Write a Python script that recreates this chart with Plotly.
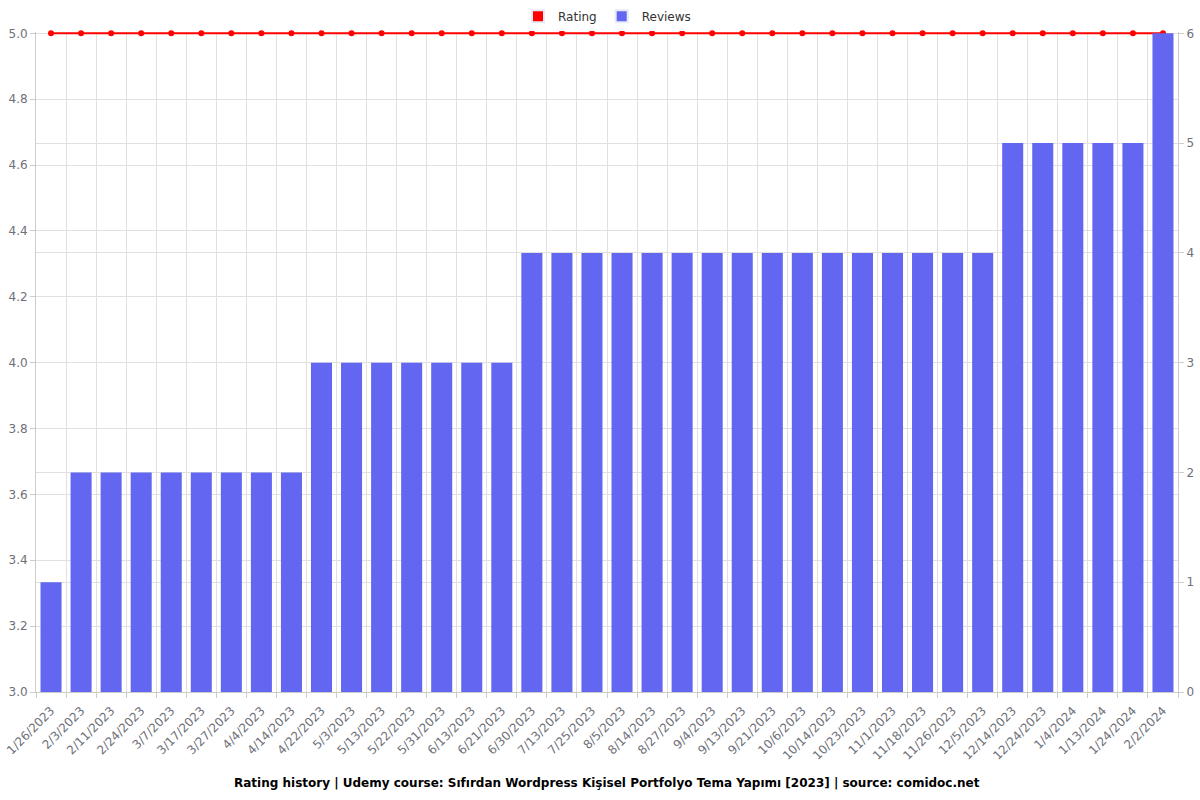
import plotly.graph_objects as go

dates = ["1/26/2023", "2/3/2023", "2/11/2023", "2/24/2023", "3/7/2023", "3/17/2023", "3/27/2023",
         "4/4/2023", "4/14/2023", "4/22/2023", "5/3/2023", "5/13/2023", "5/22/2023", "5/31/2023",
         "6/13/2023", "6/21/2023", "6/30/2023", "7/13/2023", "7/25/2023", "8/5/2023", "8/14/2023",
         "8/27/2023", "9/4/2023", "9/13/2023", "9/21/2023", "10/6/2023", "10/14/2023", "10/23/2023",
         "11/1/2023", "11/18/2023", "11/26/2023", "12/5/2023", "12/14/2023", "12/24/2023",
         "1/4/2024", "1/13/2024", "1/24/2024", "2/2/2024"]
reviews = [1, 2, 2, 2, 2, 2, 2, 2, 2, 3, 3, 3, 3, 3, 3, 3, 4, 4, 4, 4, 4, 4, 4, 4, 4, 4, 4, 4,
           4, 4, 4, 4, 5, 5, 5, 5, 5, 6]
rating = [5.0] * len(dates)

title = "Rating history | Udemy course: Sıfırdan Wordpress Kişisel Portfolyo Tema Yapımı [2023] | source: comidoc.net"

RED = "#ff0000"
BLUE = "#6366f1"
GRID = "#e0e0e0"
TXT = "#6e7079"

fig = go.Figure()
fig.add_trace(go.Bar(x=dates, y=reviews, name="Reviews", marker=dict(color=BLUE, line=dict(width=0)),
                     yaxis="y2", showlegend=False))
fig.add_trace(go.Scatter(x=dates, y=rating, name="Rating", mode="lines+markers",
                         line=dict(color=RED, width=2), marker=dict(color=RED, size=6),
                         cliponaxis=False, showlegend=False))
# legend swatches (no data drawn)
fig.add_trace(go.Bar(x=[dates[0]], y=[None], name="Rating", marker=dict(color=RED), showlegend=True,
                     yaxis="y2"))
fig.add_trace(go.Bar(x=[dates[0]], y=[None], name="Reviews", marker=dict(color=BLUE), showlegend=True,
                     yaxis="y2"))

fig.update_layout(
    width=1200, height=800,
    margin=dict(l=36, r=22, t=32, b=108, autoexpand=False),
    paper_bgcolor="white", plot_bgcolor="white",
    font=dict(family="DejaVu Sans", size=12, color=TXT),
    bargap=0.3,
    barmode="overlay",
    legend=dict(orientation="h", x=0.5, xanchor="center", y=1.024, yanchor="middle",
                font=dict(size=12, color="#333333"), itemsizing="constant"),
    xaxis=dict(type="category", categoryorder="array", categoryarray=dates, tickangle=-45,
               range=[-0.5, len(dates) - 0.5], ticklabelstandoff=6,
               showgrid=True, gridcolor=GRID, tickson="boundaries",
               ticks="outside", ticklen=5, tickcolor="#cccccc", showline=True, linecolor="#cccccc",
               tickfont=dict(size=12, color=TXT)),
    yaxis=dict(range=[3.0, 5.004], tickvals=[3.0, 3.2, 3.4, 3.6, 3.8, 4.0, 4.2, 4.4, 4.6, 4.8, 5.0],
               tickformat=".1f", showgrid=True, gridcolor=GRID,
               zeroline=False, showline=True, linecolor="#cccccc", ticks="outside", ticklen=5,
               tickcolor="#cccccc", tickfont=dict(size=12, color=TXT)),
    yaxis2=dict(range=[0, 6.012], tickvals=[0, 1, 2, 3, 4, 5, 6], overlaying="y", side="right",
                showgrid=True, gridcolor=GRID,
                zeroline=False, showline=True, linecolor="#cccccc", ticks="outside", ticklen=5,
                tickcolor="#cccccc", tickfont=dict(size=12, color=TXT)),
    annotations=[dict(text="<b>" + title + "</b>", x=0.5, xref="paper", y=-0.138, yref="paper",
                      yanchor="middle", showarrow=False, font=dict(size=12, color="#000000"))],
)
fig.write_html("out.html", config={"displayModeBar": False},
               post_script="document.body.style.margin='0';")
